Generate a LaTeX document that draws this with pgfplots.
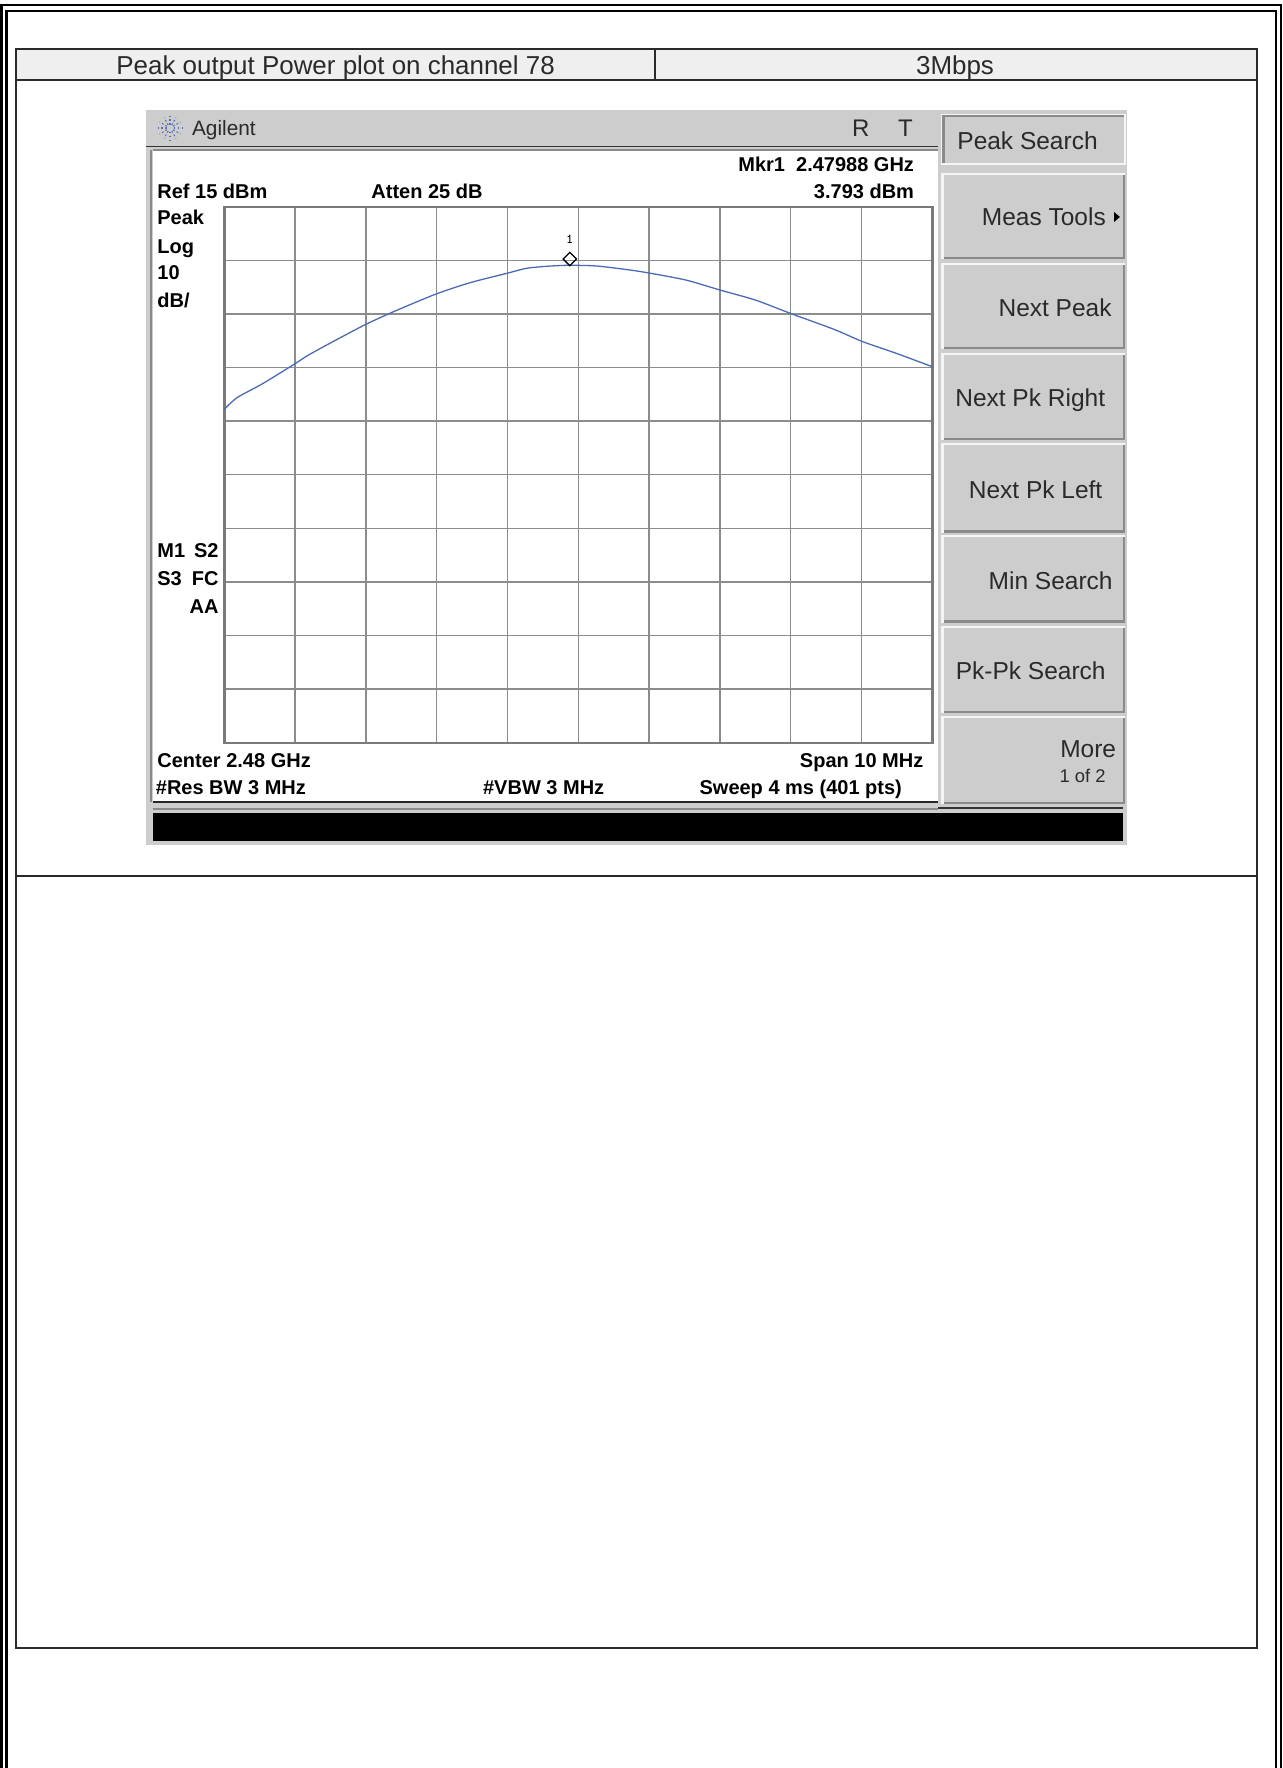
\documentclass[border=0pt]{standalone}
\usepackage{pgfplots}
\pgfplotsset{compat=1.18}
\usepackage{fontspec}
\setmainfont{Liberation Sans}
\definecolor{panel}{HTML}{CDCDCD}
\definecolor{headfill}{HTML}{EFEFEF}
\definecolor{gridc}{HTML}{8C8C8C}
\definecolor{bord}{HTML}{7A7A7A}
\definecolor{tracec}{HTML}{4A6BB5}
\definecolor{txt}{HTML}{2A2A2A}
\definecolor{edgec}{HTML}{8A8A8A}
\definecolor{logo}{HTML}{5A6FB8}
\pgfplotstableread{
x y
2.47500 -22.80
2.47518 -20.63
2.47555 -17.95
2.47597 -14.53
2.47619 -12.67
2.47649 -10.49
2.47698 -7.07
2.47739 -4.59
2.47799 -1.29
2.47847 0.82
2.47899 2.57
2.47927 3.51
2.47955 3.88
2.47986 4.07
2.48026 3.94
2.48073 3.19
2.48100 2.63
2.48152 1.32
2.48200 -0.54
2.48250 -2.41
2.48302 -5.02
2.48361 -7.87
2.48402 -10.19
2.48449 -12.35
2.48500 -14.85
}\tracedata
\pgfplotstableread{
x y
2.47988 5.24
}\markerdata
\newcommand{\boldtxt}{\fontsize{10pt}{11pt}\selectfont\bfseries}
\newcommand{\btntxt}{\fontsize{12.25pt}{14pt}\selectfont}
\tikzset{
  lab/.style={inner sep=0pt,text height=7.1pt,text depth=0pt,font=\boldtxt,text=black},
  btn/.style={inner sep=0pt,text height=8.7pt,text depth=0pt,font=\btntxt,text=txt},
  hd/.style={inner sep=0pt,text height=9.3pt,text depth=0pt,font=\fontsize{12.97pt}{14pt}\selectfont,text=txt},
}
% raised soft key: x1 y1 x2 y2
\newcommand{\softkey}[4]{%
  \fill[white!80!panel] (#1-2.5,#2-2.5) rectangle (#3+1,#4+1);
  \fill[panel] (#1,#2) rectangle (#3,#4);
  \draw[edgec,line width=1.3pt] (#1,#4) -- (#3,#4) -- (#3,#2);
}
\begin{document}
\begin{tikzpicture}
\begin{scope}[x=0.5pt,y=-0.5pt]
  \useasboundingbox (0,0) rectangle (1282,1768);
  \fill[white] (0,0) rectangle (1282,1768);
  % double page frame (open at the bottom)
  \draw[black,line width=1.2pt] (1.3,1768) -- (1.3,5) -- (1281,5) -- (1281,1768);
  \draw[black,line width=1.2pt] (6.4,1768) -- (6.4,11) -- (1276,11) -- (1276,1768);
  % table
  \fill[headfill] (16,49) rectangle (1256.7,80);
  \draw[txt,line width=0.85pt] (16,49) rectangle (1256.7,1648);
  \draw[txt,line width=0.85pt] (16,80) -- (1256.7,80);
  \draw[txt,line width=0.85pt] (655,49) -- (655,80);
  \draw[txt,line width=0.85pt] (16,875.7) -- (1256.7,875.7);
  \node[hd,anchor=west] at (116,65) {Peak output Power plot on channel 78};
  \node[hd] at (955,65) {3Mbps};
  % instrument screen
  \fill[panel] (146,110) rectangle (1126.5,845);
  \fill[white] (153.3,150) rectangle (937.5,801.7);
  \draw[black!80,line width=0.9pt] (146,146.5) -- (938,146.5);
  \draw[edgec,line width=0.8pt] (153,150) -- (938,150);
  \draw[edgec,line width=1.3pt] (151,150) -- (151,802);
  \draw[black!85,line width=0.6pt] (153,802) -- (938,802);
  \draw[edgec,line width=1pt] (153,809) -- (938,809);
  \draw[black!80,line width=0.8pt] (938,808) -- (1123,808);
  \fill[black] (153.3,812.7) rectangle (1122.7,840.7);
  % soft keys
  \fill[white!80!panel] (941,114) rectangle (1126,165);
  \fill[panel] (943.7,116) rectangle (1124,163);
  \draw[edgec,line width=1.3pt] (943.7,163) -- (943.7,116) -- (1124,116);
  \softkey{943.7}{175}{1124}{258}
  \softkey{943.7}{265}{1124}{348}
  \softkey{943.7}{355}{1124}{439}
  \softkey{943.7}{445}{1124}{531.7}
  \softkey{943.7}{537}{1124}{621.7}
  \softkey{943.7}{628}{1124}{712}
  \softkey{943.7}{718}{1124}{803}
  \node[btn,anchor=west] at (957,140.7) {Peak Search};
  \node[btn,anchor=east] at (1106.2,217) {Meas Tools};
  \fill[black] (1114,212) -- (1120,217) -- (1114,222) -- cycle;
  \node[btn,anchor=east] at (1112,308) {Next Peak};
  \node[btn,anchor=east] at (1105.5,398) {Next Pk Right};
  \node[btn,anchor=east] at (1102.7,490) {Next Pk Left};
  \node[btn,anchor=east] at (1113,580.7) {Min Search};
  \node[btn,anchor=west] at (955.4,671) {Pk-Pk Search};
  \node[btn,anchor=east] at (1116.5,749) {More};
  \node[inner sep=0pt,text height=6.6pt,text depth=0pt,text=txt,font=\fontsize{9.2pt}{11pt}\selectfont,anchor=east] at (1106,776) {1 of 2};
  % logo and header
  \foreach \a in {0,30,...,330}
    \draw[logo,line width=0.55pt,dash pattern=on 0.9pt off 1.1pt] (170,128) ++(\a:3.5) -- ++(\a:8.5);
  \node[inner sep=0pt,text height=7.6pt,text depth=0pt,text=txt,font=\fontsize{10.4pt}{12pt}\selectfont,anchor=west] at (191.7,128) {Agilent};
  \node[inner sep=0pt,text height=8.4pt,text depth=0pt,text=txt,font=\fontsize{12pt}{14pt}\selectfont] at (860.7,128) {R};
  \node[inner sep=0pt,text height=8.4pt,text depth=0pt,text=txt,font=\fontsize{12pt}{14pt}\selectfont] at (905.4,128) {T};
  % annotations
  \node[lab,anchor=west] at (157,191.7) {Ref 15 dBm};
  \node[lab,anchor=west] at (371,191.7) {Atten 25 dB};
  \node[lab,anchor=east] at (914.4,164) {Mkr1\ \ 2.47988 GHz};
  \node[lab,anchor=east] at (914.4,191.7) {3.793 dBm};
  \node[lab,anchor=west] at (157,217.3) {Peak};
  \node[lab,anchor=west] at (157,246) {Log};
  \node[lab,anchor=west] at (157,272.7) {10};
  \node[lab,anchor=west] at (157,300) {dB/};
  \node[lab,anchor=west] at (157,550.7) {M1};
  \node[lab,anchor=east] at (219,550.7) {S2};
  \node[lab,anchor=west] at (157,578) {S3};
  \node[lab,anchor=east] at (219,578) {FC};
  \node[lab,anchor=east] at (219,606) {AA};
  \node[lab,anchor=west] at (157,760) {Center 2.48 GHz};
  \node[lab,anchor=west] at (155.5,787.7) {\#Res BW 3 MHz};
  \node[lab,anchor=west] at (482.7,787.7) {\#VBW 3 MHz};
  \node[lab,anchor=east] at (923.7,760) {Span 10 MHz};
  \node[lab,anchor=east] at (902.3,787.7) {Sweep 4 ms (401 pts)};
\end{scope}
\begin{axis}[
  at={(112.15pt,-103.35pt)},anchor=north west,
  scale only axis,width=354pt,height=268pt,
  xmin=2.475,xmax=2.485,ymin=-85,ymax=15,
  xtick={2.476,2.477,2.478,2.479,2.48,2.481,2.482,2.483,2.484},
  ytick={5,-5,-15,-25,-35,-45,-55,-65,-75},
  xticklabels={},yticklabels={},
  major tick length=0pt,
  grid=major,
  grid style={gridc,line width=0.7pt},
  axis line style={bord,line width=1.2pt},
  clip=false,
]
\addplot[tracec,line width=0.65pt,smooth,tension=0.4] table[x=x,y=y] {\tracedata};
\addplot[only marks,mark=square,mark size=2.35pt,
  mark options={black,line width=0.65pt,rotate=45,fill=none}] table[x=x,y=y] {\markerdata};
\node[inner sep=0pt,font=\fontsize{6.8pt}{7pt}\selectfont\ttfamily] at (axis cs:2.47988,8.92) {1};
\end{axis}
\end{tikzpicture}
\end{document}
